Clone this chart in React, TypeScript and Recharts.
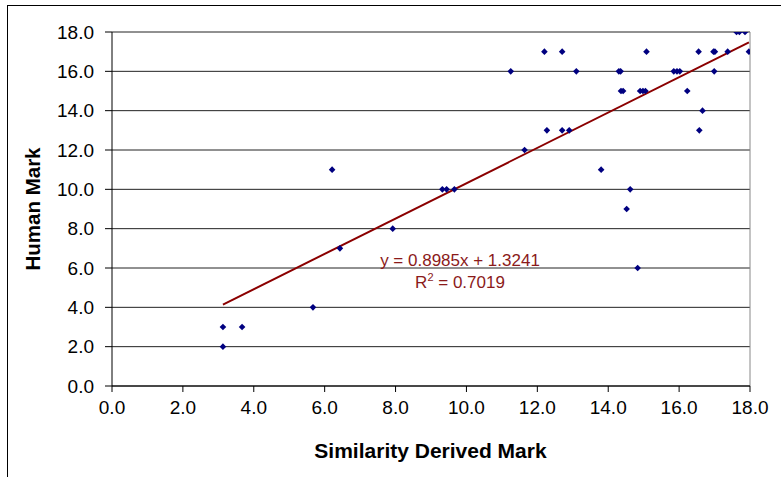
import {
  ReferenceLine,
  Scatter,
  ScatterChart,
  XAxis,
  YAxis,
  CartesianGrid,
} from "recharts";

const derivedMark = [
  3.13, 3.13, 3.67, 5.67, 6.21, 6.43, 7.92, 9.32, 9.44, 9.66, 11.25, 11.64, 12.2, 12.27,
  12.7, 12.7, 12.9, 13.1, 13.8, 14.3, 14.35, 14.36, 14.42, 14.52, 14.62, 14.83, 14.9, 14.98,
  15.05, 15.08, 15.85, 15.94, 16.02, 16.23, 16.55, 16.57, 16.66, 16.97, 17.01, 16.99,
  17.37, 17.62, 17.7, 17.86, 17.97,
];
const humanMark = [
  2, 3, 3, 4, 11, 7, 8, 10, 10, 10, 16, 12, 17, 13,
  17, 13, 13, 16, 11, 16, 16, 15, 15, 9, 10, 6, 15, 15,
  15, 17, 16, 16, 16, 15, 17, 13, 14, 17, 17, 16,
  17, 18, 18, 18, 17,
];
const trendStart = { x: 3.13, y: 4.14 };
const trendEnd = { x: 17.97, y: 17.47 };
const axisTicks = [0, 2, 4, 6, 8, 10, 12, 14, 16, 18];

const points = derivedMark.map((x, i) => ({ x, y: humanMark[i] }));

const font = "'Liberation Sans', Arial, sans-serif";

function Diamond(props: any) {
  const { cx, cy } = props;
  const r = 3.3;
  return (
    <path
      d={`M${cx},${cy - r}L${cx + r},${cy}L${cx},${cy + r}L${cx - r},${cy}Z`}
      fill="#000080"
    />
  );
}

export default function App() {
  return (
    <div
      style={{
        position: "absolute",
        left: 0,
        top: 0,
        width: 781,
        height: 477,
        overflow: "hidden",
        background: "#fff",
        fontFamily: font,
      }}
    >
      <div
        style={{
          position: "absolute",
          left: 7,
          top: 5,
          width: 800,
          height: 500,
          borderLeft: "1.5px solid #000",
          borderTop: "1.5px solid #000",
        }}
      />
      <ScatterChart
        width={781}
        height={477}
        margin={{ top: 32, right: 31, bottom: 0, left: 0 }}
        style={{ position: "absolute", left: 0, top: 0 }}
      >
        <CartesianGrid horizontal vertical={false} stroke="#222" strokeOpacity={1} />
        <XAxis
          type="number"
          dataKey="x"
          domain={[0, 18]}
          ticks={axisTicks}
          tickFormatter={(v) => v.toFixed(1)}
          height={91}
          tickSize={6}
          tickMargin={9}
          stroke="#000"
          tick={{ fill: "#000", fontSize: 19, fontFamily: font }}
          allowDataOverflow
        />
        <YAxis
          type="number"
          dataKey="y"
          domain={[0, 18]}
          ticks={axisTicks}
          tickFormatter={(v) => v.toFixed(1)}
          width={112}
          tickSize={7}
          tickMargin={11}
          stroke="#000"
          tick={{ fill: "#000", fontSize: 19, fontFamily: font }}
          allowDataOverflow
        />
        <ReferenceLine x={18} stroke="#888" />
        <ReferenceLine
          segment={[trendStart, trendEnd]}
          stroke="#8b0000"
          strokeWidth={2}
          ifOverflow="visible"
        />
        <Scatter data={points} shape={Diamond} isAnimationActive={false} />
      </ScatterChart>
      <div
        style={{
          position: "absolute",
          left: 0,
          width: 861,
          top: 440,
          textAlign: "center",
          fontWeight: "bold",
          fontSize: 21,
          lineHeight: "21px",
          color: "#000",
        }}
      >
        Similarity Derived Mark
      </div>
      <div
        style={{
          position: "absolute",
          left: 33 - 100,
          top: 209 - 10,
          width: 200,
          textAlign: "center",
          fontWeight: "bold",
          fontSize: 20.5,
          lineHeight: "20px",
          transform: "rotate(-90deg)",
          color: "#000",
        }}
      >
        Human Mark
      </div>
      <div
        style={{
          position: "absolute",
          left: 360,
          width: 200,
          top: 250,
          textAlign: "center",
          fontSize: 17,
          lineHeight: "22px",
          color: "#8b1a1a",
        }}
      >
        y = 0.8985x + 1.3241
        <br />
        R<sup style={{ fontSize: 11, lineHeight: 0 }}>2</sup> = 0.7019
      </div>
    </div>
  );
}
